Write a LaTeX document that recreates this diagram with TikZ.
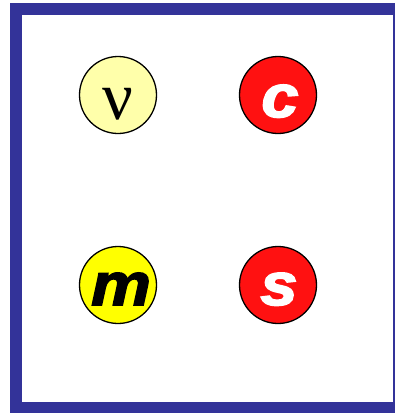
\documentclass[tikz,border=0pt]{standalone}
\usepackage{fontspec}
\setmainfont{Liberation Serif}
\newfontfamily\heavysans[FakeBold=2.5,FakeStretch=1.12,BoldFont={* Bold},BoldItalicFont={* Bold Italic}]{Liberation Sans}
\definecolor{frameblue}{RGB}{51,51,153}
\definecolor{paleyellow}{RGB}{255,255,170}
\definecolor{brightred}{RGB}{255,17,17}
\definecolor{brightyellow}{RGB}{255,255,0}
\begin{document}
\begin{tikzpicture}[x=1pt,y=-1pt,
  ball/.style={circle,draw=black,line width=1.3pt,minimum size=77pt,inner sep=0pt},
  greek/.style={anchor=base,font=\fontsize{68}{68}\selectfont},
  flav/.style={anchor=base,font=\heavysans\bfseries\itshape\fontsize{60}{60}\selectfont}]
\useasboundingbox (0,0) rectangle (395,413);
\fill[white] (0,0) rectangle (395,413);
\fill[frameblue] (10,3) rectangle (395,413);
\fill[white] (22,15) rectangle (393,402);
\node[ball,fill=paleyellow] (nu) at (118,95) {};
\node[ball,fill=brightred] (c) at (278,95) {};
\node[ball,fill=brightyellow] (m) at (118,285) {};
\node[ball,fill=brightred] (s) at (278,285) {};
\node[greek] (nut) at (118,119) {ν};
\node[flav,text=white] (ct) at (280,117) {c};
\node[flav,text=black] (mt) at (121,305) {m};
\node[flav,text=white] (st) at (279,305) {s};
\end{tikzpicture}
\end{document}
